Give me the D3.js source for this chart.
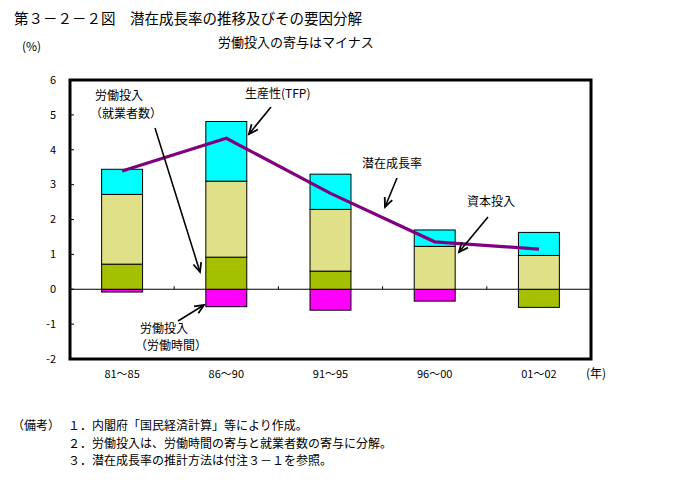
<!DOCTYPE html>
<html><head><meta charset="utf-8">
<script src="https://cdn.jsdelivr.net/npm/d3@7"></script>
<style>
body{margin:0;background:#fff;}
text{font-family:"Noto Sans CJK JP","Noto Sans",sans-serif;fill:#000;}
</style></head>
<body><svg id="c" width="675" height="500"></svg>
<script>
const categories = ["81～85","86～90","91～95","96～00","01～02"];
const laborHours = [-0.08,-0.50,-0.60,-0.34,0.00];     // 労働投入（労働時間）
const laborEmployment = [0.72,0.92,0.52,0.00,-0.52];   // 労働投入（就業者数）
const capitalInput = [2.00,2.18,1.77,1.23,0.97];       // 資本投入
const tfp = [0.72,1.71,1.01,0.47,0.66];                // 生産性(TFP)
const potentialGrowth = [3.39,4.33,2.75,1.36,1.15];    // 潜在成長率
const yTicks = [-2,-1,0,1,2,3,4,5,6];

const title = "第３－２－２図　潜在成長率の推移及びその要因分解";
const subtitle = "労働投入の寄与はマイナス";
const notes = ["１．内閣府「国民経済計算」等により作成。",
               "２．労働投入は、労働時間の寄与と就業者数の寄与に分解。",
               "３．潜在成長率の推計方法は付注３－１を参照。"];

const svg = d3.select("#c");
const L=70,R=591,T=80,B=359;
const x = d3.scaleBand().domain(categories).range([L,R]).paddingInner(0.607).paddingOuter(0.3035);
const y = d3.scaleLinear().domain([-2,6]).range([B,T]);

const keys = ["hours","emp","cap","tfp"];
const colors = {hours:"#FF00FF",emp:"#A4C000",cap:"#E0E088",tfp:"#00FFFF"};
const table = categories.map((c,i)=>({cat:c,hours:laborHours[i],emp:laborEmployment[i],cap:capitalInput[i],tfp:tfp[i]}));
const stacked = d3.stack().keys(keys).offset(d3.stackOffsetDiverging)(table);

// title texts
svg.append("text").attr("x",14).attr("y",24).attr("font-size",14.5).text(title);
svg.append("text").attr("x",218).attr("y",47).attr("font-size",13).text(subtitle);
svg.append("text").attr("x",22).attr("y",51).attr("font-size",12).text("(%)");

// zero line
svg.append("line").attr("x1",L).attr("x2",R).attr("y1",y(0)).attr("y2",y(0)).attr("stroke","#000").attr("stroke-width",1);
// x ticks at band boundaries on zero line
const step = x.step();
for(let i=1;i<categories.length;i++){
  const bx = L + i*step;
  svg.append("line").attr("x1",bx).attr("x2",bx).attr("y1",y(0)).attr("y2",y(0)-3).attr("stroke","#000");
}

// bars
stacked.forEach(s=>{
  svg.append("g").selectAll("rect").data(s.filter(d=>d[1]!==d[0])).join("rect")
    .attr("x",d=>x(d.data.cat)).attr("width",x.bandwidth())
    .attr("y",d=>y(d[1])).attr("height",d=>y(d[0])-y(d[1]))
    .attr("fill",colors[s.key]).attr("stroke","#000").attr("stroke-width",1);
});

// line
const line = d3.line().x((d,i)=>x(categories[i])+x.bandwidth()/2).y(d=>y(d));
svg.append("path").attr("d",line(potentialGrowth)).attr("fill","none").attr("stroke","#800080").attr("stroke-width",3.2);

// frame
svg.append("rect").attr("x",L).attr("y",T).attr("width",R-L).attr("height",B-T).attr("fill","none").attr("stroke","#000").attr("stroke-width",3);

// y axis ticks and labels
yTicks.forEach(t=>{
  svg.append("line").attr("x1",L).attr("x2",L+4).attr("y1",y(t)).attr("y2",y(t)).attr("stroke","#000");
  svg.append("text").attr("x",56).attr("y",y(t)).attr("dy","0.35em").attr("text-anchor","end").attr("font-size",11).text(t);
});
// x labels
categories.forEach(c=>{
  svg.append("text").attr("x",x(c)+x.bandwidth()/2).attr("y",374).attr("dy","0.35em").attr("text-anchor","middle").attr("font-size",11).text(c);
});
svg.append("text").attr("x",586).attr("y",374).attr("dy","0.35em").attr("font-size",12).text("(年)");

// annotations
function arrow(x1,y1,x2,y2){
  svg.append("line").attr("x1",x1).attr("y1",y1).attr("x2",x2).attr("y2",y2).attr("stroke","#000").attr("stroke-width",1.6);
  const a = Math.atan2(y2-y1,x2-x1), len=10, sp=0.42;
  const p1=[x2-len*Math.cos(a-sp), y2-len*Math.sin(a-sp)];
  const p2=[x2-len*Math.cos(a+sp), y2-len*Math.sin(a+sp)];
  svg.append("path").attr("d",`M${p1[0]},${p1[1]}L${x2},${y2}L${p2[0]},${p2[1]}`).attr("fill","none").attr("stroke","#000").attr("stroke-width",1.8);
}
function label(lines,xx,yy){
  lines.forEach((s,i)=>{
    svg.append("text").attr("x", s.startsWith("（") ? xx-5 : xx).attr("y",yy+i*17.6)
      .attr("dy","0.35em").attr("font-size",12).text(s);
  });
}
label(["労働投入","（就業者数）"],95,96);
arrow(155,128,200,272);
label(["生産性(TFP)"],245,93.5);
arrow(271,107,249,134);
label(["労働投入","（労働時間）"],140,328.5);
arrow(178,321,204,305);
label(["潜在成長率"],362,164);
arrow(397,178,385,207);
label(["資本投入"],467,202);
arrow(488,217,459,252);

// notes
svg.append("text").attr("x",12).attr("y",426).attr("dy","0.35em").attr("font-size",12).text("（備考）");
notes.forEach((n,i)=>svg.append("text").attr("x",68).attr("y",426+i*17.5).attr("dy","0.35em").attr("font-size",12).text(n));
</script></body></html>
